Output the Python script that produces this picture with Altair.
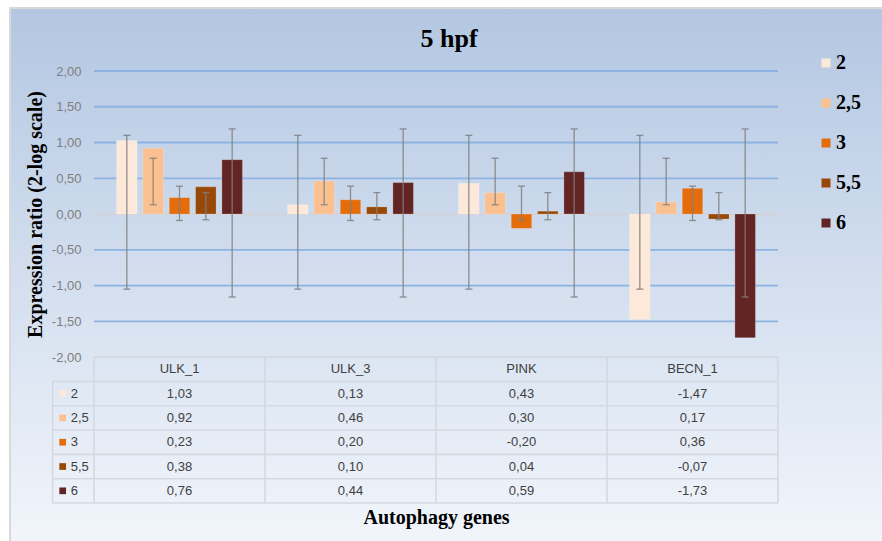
import altair as alt
import pandas as pd

# ---------------- data ----------------
genes = ["ULK_1", "ULK_3", "PINK", "BECN_1"]
series = ["2", "2,5", "3", "5,5", "6"]
colors = ["#FDE9D9", "#FAC090", "#E46C0A", "#984807", "#632523"]

vals_2 = [1.03, 0.13, 0.43, -1.47]
vals_2_5 = [0.92, 0.46, 0.30, 0.17]
vals_3 = [0.23, 0.20, -0.20, 0.36]
vals_5_5 = [0.38, 0.10, 0.04, -0.07]
vals_6 = [0.76, 0.44, 0.59, -1.73]
series_values = [vals_2, vals_2_5, vals_3, vals_5_5, vals_6]

# error bar ends per series (same for every gene)
err_low = [-1.05, 0.13, -0.09, -0.08, -1.16]
err_high = [1.10, 0.78, 0.39, 0.30, 1.19]

y_ticks = [2.0, 1.5, 1.0, 0.5, 0.0, -0.5, -1.0, -1.5, -2.0]
grid_levels = [2.0, 1.5, 1.0, 0.5, -0.5, -1.0, -1.5]

# ---------------- layout constants ----------------
W, H = 684, 432
PAD_L, PAD_T = 94, 71
STEP = 0.154        # spacing between bars inside a gene group (x units)
BAR_W = 0.12        # bar width (x units)
ROW = 0.34          # table row height (y units)
LABEL_COL = 0.242   # width of table label column (x units)
Y_MAX = 2.0
Y_MIN = -2.0 - 6 * ROW

def fmt(v):
    return f"{v:.2f}".replace(".", ",")

# bars
rows = []
for si, s in enumerate(series):
    for gi, g in enumerate(genes):
        xc = gi + 0.5 + (si - 2) * STEP
        rows.append(dict(gene=g, series=s, value=series_values[si][gi],
                         xc=xc, x0=xc - BAR_W / 2, x1=xc + BAR_W / 2,
                         lo=err_low[si], hi=err_high[si]))
bars_df = pd.DataFrame(rows)

grid_df = pd.DataFrame({"y": grid_levels, "x0": 0.0, "x1": float(len(genes))})

# table lines
hl = [dict(x0=0.0, x1=float(len(genes)), y=-2.0)]
for k in range(1, 7):
    hl.append(dict(x0=-LABEL_COL, x1=float(len(genes)), y=-2.0 - k * ROW))
hl_df = pd.DataFrame(hl)
vl = [dict(x=-LABEL_COL, y0=-2.0 - ROW, y1=Y_MIN)]
for i in range(len(genes) + 1):
    vl.append(dict(x=float(i), y0=-2.0, y1=Y_MIN))
vl_df = pd.DataFrame(vl)

header_df = pd.DataFrame({"gene": genes, "x": [i + 0.5 for i in range(len(genes))],
                          "y": -2.0 - ROW / 2})
cell_rows = []
for si, s in enumerate(series):
    for gi, g in enumerate(genes):
        cell_rows.append(dict(x=gi + 0.5, y=-2.0 - (si + 1.5) * ROW,
                              label=fmt(series_values[si][gi])))
cell_df = pd.DataFrame(cell_rows)
rowlab_df = pd.DataFrame({"series": series,
                          "y": [-2.0 - (i + 1.5) * ROW for i in range(len(series))],
                          "xs": -0.183, "xt": -0.136})

# ---------------- encodings ----------------
xs = alt.Scale(domain=[0, len(genes)], nice=False, zero=False)
ys = alt.Scale(domain=[Y_MIN, Y_MAX], nice=False, zero=False)
cs = alt.Scale(domain=series, range=colors)

minus = "\u2212"
x_axis = alt.Axis(labels=False, ticks=False, domain=False, grid=False,
                  title="Autophagy genes", titleFont="Liberation Serif", titleFontSize=20,
                  titleFontWeight="bold", titleColor="black", titleX=W / 2, titleY=14,
                  titleAlign="center", titleBaseline="middle", zindex=1)
y_axis = alt.Axis(values=y_ticks, ticks=False, domain=False, grid=False,
                  labelExpr=f"replace(replace(format(datum.value, '.2f'), '.', ','), '{minus}', '-')",
                  labelFont="Liberation Sans", labelFontSize=13, labelColor="#7f7f7f",
                  labelPadding=13,
                  title="Expression ratio (2-log scale)", titleFont="Liberation Serif",
                  titleFontSize=20, titleFontWeight="bold", titleColor="black",
                  titleAngle=270, titleX=-59, titleY=143, titleAlign="center",
                  titleBaseline="middle", zindex=1)

legend = alt.Legend(title=None, orient="none", legendX=722, legendY=-18,
                    symbolType="square", symbolSize=81, symbolStrokeWidth=0,
                    labelFont="Liberation Serif", labelFontSize=20, labelFontWeight="bold",
                    labelColor="black", rowPadding=20, labelOffset=0, padding=0, zindex=1)

def X(f):
    return alt.X(f, scale=xs, axis=x_axis)

def Y(f):
    return alt.Y(f, scale=ys, axis=y_axis)

# background frame
bg = alt.Chart(pd.DataFrame({"k": [0]})).mark_rect(
    fill=alt.Gradient(gradient="linear",
                      stops=[alt.GradientStop(color="#b3c7e2", offset=0),
                             alt.GradientStop(color="#f4f7fc", offset=1)],
                      x1=0, x2=0, y1=0, y2=1),
    stroke="#d9d9d9", strokeWidth=2
).encode(x=alt.value(10 - PAD_L), x2=alt.value(900 - PAD_L),
         y=alt.value(8 - PAD_T), y2=alt.value(560 - PAD_T))

grid = alt.Chart(grid_df).mark_rule(color="#8db3e2", strokeWidth=1.8).encode(
    x=X("x0:Q"), x2="x1:Q", y=Y("y:Q"))

zero = alt.Chart(pd.DataFrame({"y": [0.0], "x0": [0.0], "x1": [float(len(genes))]})).mark_rule(
    color="#d9cfcf", strokeWidth=1.2).encode(x=X("x0:Q"), x2="x1:Q", y=Y("y:Q"))

hlines = alt.Chart(hl_df).mark_rule(color="#d5d9df", strokeWidth=1.6).encode(
    x=X("x0:Q"), x2="x1:Q", y=Y("y:Q"))
vlines = alt.Chart(vl_df).mark_rule(color="#d5d9df", strokeWidth=1.6).encode(
    x=X("x:Q"), y=Y("y0:Q"), y2="y1:Q")

bars = alt.Chart(bars_df).mark_bar(stroke="white", strokeOpacity=0.25, strokeWidth=0.8).encode(
    x=X("x0:Q"), x2="x1:Q", y=Y("value:Q"), y2=alt.datum(0),
    color=alt.Color("series:N", scale=cs, legend=legend))

err = alt.Chart(bars_df).mark_rule(color="#7f7f7f", strokeWidth=1.3, opacity=0.85).encode(
    x=X("xc:Q"), y=Y("lo:Q"), y2="hi:Q")
cap_lo = alt.Chart(bars_df).mark_tick(color="#7f7f7f", orient="horizontal", size=7,
                                      thickness=1.3, opacity=0.85).encode(
    x=X("xc:Q"), y=Y("lo:Q"))
cap_hi = alt.Chart(bars_df).mark_tick(color="#7f7f7f", orient="horizontal", size=7,
                                      thickness=1.3, opacity=0.85).encode(
    x=X("xc:Q"), y=Y("hi:Q"))

header = alt.Chart(header_df).mark_text(font="Liberation Sans", fontSize=13, color="#404040",
                                        baseline="middle").encode(
    x=X("x:Q"), y=Y("y:Q"), text="gene:N")
cells = alt.Chart(cell_df).mark_text(font="Liberation Sans", fontSize=13, color="#404040",
                                     baseline="middle").encode(
    x=X("x:Q"), y=Y("y:Q"), text="label:N")
row_sq = alt.Chart(rowlab_df).mark_square(size=45, opacity=1).encode(
    x=X("xs:Q"), y=Y("y:Q"), color=alt.Color("series:N", scale=cs, legend=legend))
row_lbl = alt.Chart(rowlab_df).mark_text(font="Liberation Sans", fontSize=13, color="#404040",
                                         align="left", baseline="middle").encode(
    x=X("xt:Q"), y=Y("y:Q"), text="series:N")

chart = alt.layer(bg, grid, zero, hlines, vlines, bars, err, cap_lo, cap_hi,
                  header, cells, row_sq, row_lbl).properties(
    width=W, height=H,
    autosize=alt.AutoSizeParams(type="none"),
    padding={"left": PAD_L, "top": PAD_T, "right": 882 - PAD_L - W, "bottom": 541 - PAD_T - H},
    title=alt.TitleParams("5 hpf", font="Liberation Serif", fontSize=26, fontWeight="bold",
                          color="black", anchor="middle", frame="group", dx=13, offset=-66,
                          baseline="alphabetic", zindex=1),
).configure_view(stroke=None).configure(background="white")

chart.save("out.html", embed_options={"renderer": "svg", "actions": False})
